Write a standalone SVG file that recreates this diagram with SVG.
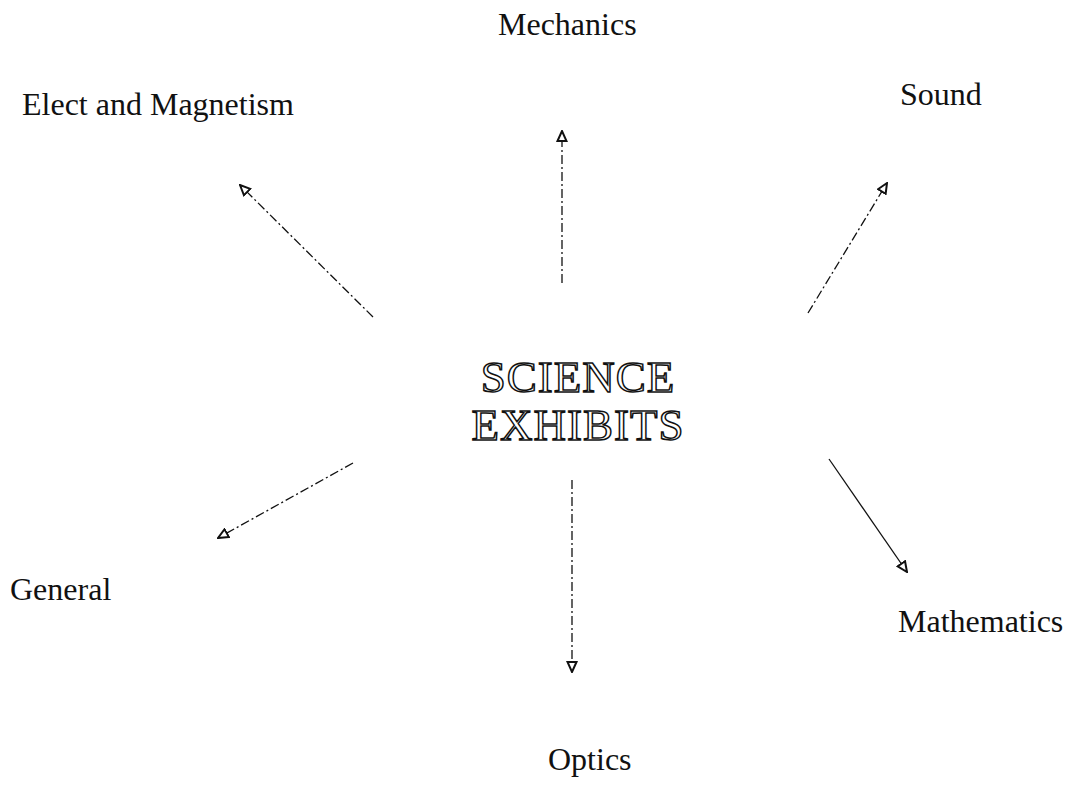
<svg xmlns="http://www.w3.org/2000/svg" width="1073" height="799" viewBox="0 0 1073 799">
<style>
.lbl{font-family:"Liberation Serif","Times New Roman",serif;font-size:32px;fill:#111}
.title{font-family:"Liberation Serif","Times New Roman",serif;font-size:45px;fill:#fff;stroke:#111;stroke-width:1.5px;letter-spacing:1px}
.c{stroke:#111;stroke-width:1.3;fill:none;marker-end:url(#ah)}
.dash{stroke-dasharray:9 3 2 3}
</style>
<defs>
<marker id="ah" viewBox="0 0 12 12" refX="11" refY="6" markerWidth="12" markerHeight="12" markerUnits="userSpaceOnUse" orient="auto">
<path d="M1,1.5 L11,6 L1,10.5 Z" fill="#fff" stroke="#111" stroke-width="2"/>
</marker>
</defs>
<rect width="1073" height="799" fill="#fff"/>
<g id="connectors">
<line class="c dash" x1="562" y1="283" x2="562" y2="131"/>
<line class="c dash" x1="373" y1="317" x2="240" y2="185"/>
<line class="c dash" x1="808" y1="313" x2="887" y2="183"/>
<line class="c dash" x1="353" y1="463" x2="218" y2="538"/>
<line class="c" x1="829" y1="459" x2="907" y2="572"/>
<line class="c dash" x1="572" y1="480" x2="572" y2="672"/>
</g>
<g id="center"><text class="title" x="578" y="392" text-anchor="middle">SCIENCE</text><text class="title" x="578" y="440" text-anchor="middle">EXHIBITS</text></g>
<g id="mechanics"><text class="lbl" x="498" y="35">Mechanics</text></g>
<g id="elect"><text class="lbl" x="22" y="115">Elect and Magnetism</text></g>
<g id="sound"><text class="lbl" x="900" y="105">Sound</text></g>
<g id="general"><text class="lbl" x="10" y="600">General</text></g>
<g id="mathematics"><text class="lbl" x="898" y="632">Mathematics</text></g>
<g id="optics"><text class="lbl" x="548" y="770">Optics</text></g>
</svg>
